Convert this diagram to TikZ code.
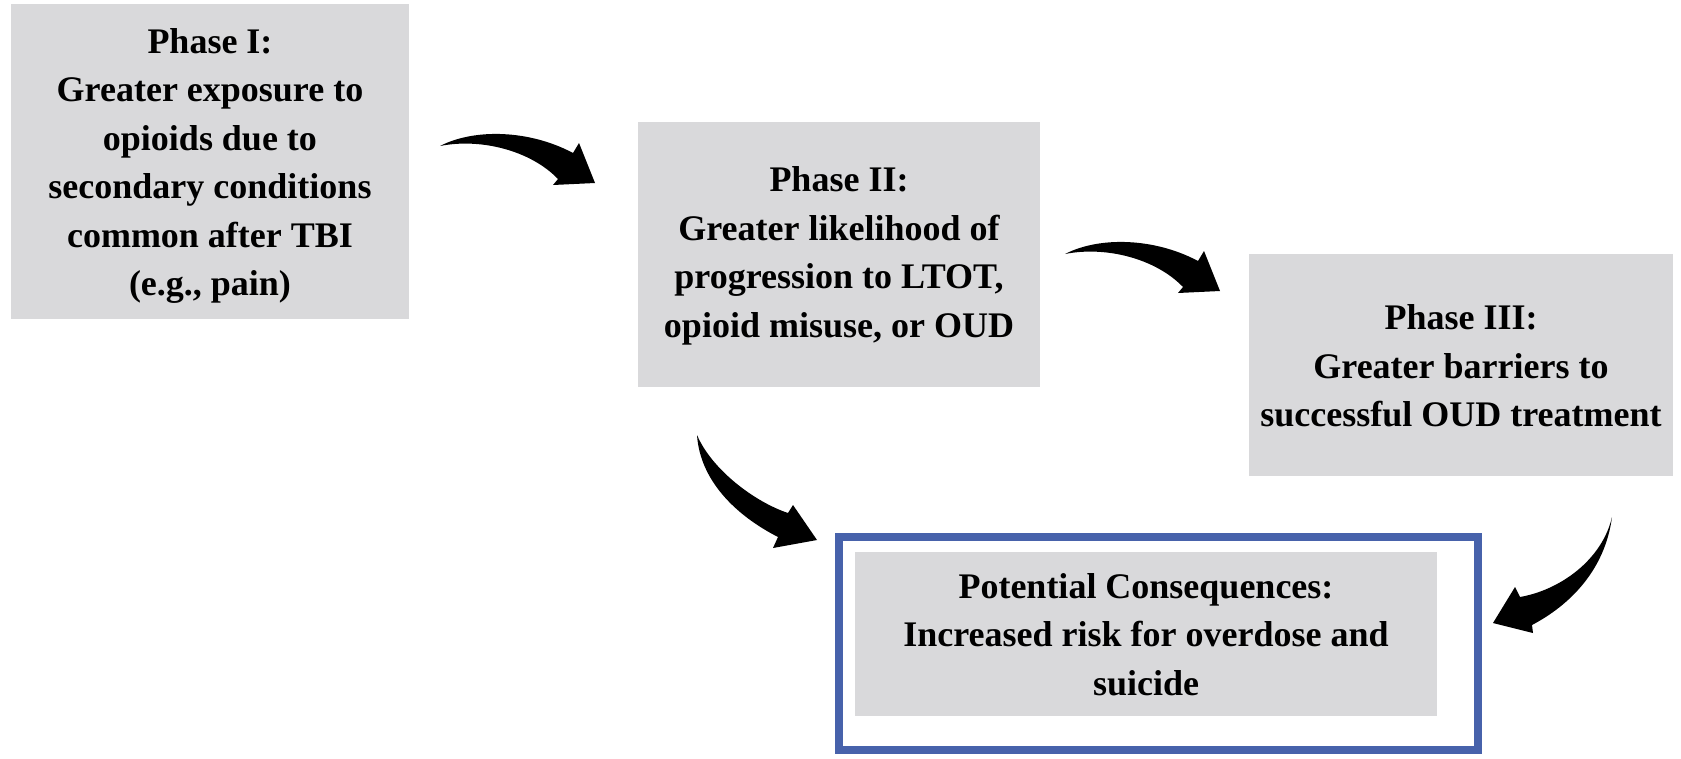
\documentclass[tikz,border=0pt]{standalone}
\usepackage{fontspec}
\setmainfont{Liberation Serif}
\definecolor{boxgrey}{RGB}{217,217,219}
\definecolor{frameblue}{RGB}{71,98,171}
\begin{document}
\begin{tikzpicture}[x=1pt,y=-1pt,
  phasebox/.style={rectangle,fill=boxgrey,draw=none,inner sep=0pt},
  phasetext/.style={align=center,inner sep=0pt,font=\fontsize{36}{48.5}\selectfont\bfseries},
  bigarrow/.pic={\fill (0,0) .. controls (35,-18) and (90,-16) .. (133,7) -- (139,-3) -- (155,37) -- (113,39) -- (118,33) .. controls (90,4) and (40,-8) .. cycle;}]
\useasboundingbox (0,0) rectangle (1681,758);
% boxes
\node[phasebox,minimum width=398pt,minimum height=315pt] (p1) at (210,161.5) {};
\node[phasetext] (t1) at (210,166) {Phase I:\\Greater exposure to\\opioids due to\\secondary conditions\\common after TBI\\(e.g., pain)};
\node[phasebox,minimum width=402pt,minimum height=265pt] (p2) at (839,254.5) {};
\node[phasetext] (t2) at (839,256) {Phase II:\\Greater likelihood of\\progression to LTOT,\\opioid misuse, or OUD};
\node[phasebox,minimum width=424pt,minimum height=222pt] (p3) at (1461,365) {};
\node[phasetext] (t3) at (1461,366) {Phase III:\\Greater barriers to\\successful OUD treatment};
\node[rectangle,draw=frameblue,line width=8pt,inner sep=0pt,minimum width=639pt,minimum height=213pt] (frame) at (1158.5,643.5) {};
\node[phasebox,minimum width=582pt,minimum height=164pt] (pc) at (1146,634) {};
\node[phasetext] (tc) at (1146,634.5) {Potential Consequences:\\Increased risk for overdose and\\suicide};
% arrows
\pic at (440,146) {bigarrow};
\pic at (1065,254) {bigarrow};
\fill (697,435) .. controls (712,470) and (755,502) .. (788,513) -- (793,505) -- (817,540) -- (773,548) -- (778,537) .. controls (735,515) and (700,480) .. cycle;
\fill (1612,517) .. controls (1602,560) and (1560,590) .. (1520,597) -- (1515,587) -- (1493,623) -- (1533,633) -- (1532,625) .. controls (1570,605) and (1605,570) .. cycle;
\end{tikzpicture}
\end{document}
